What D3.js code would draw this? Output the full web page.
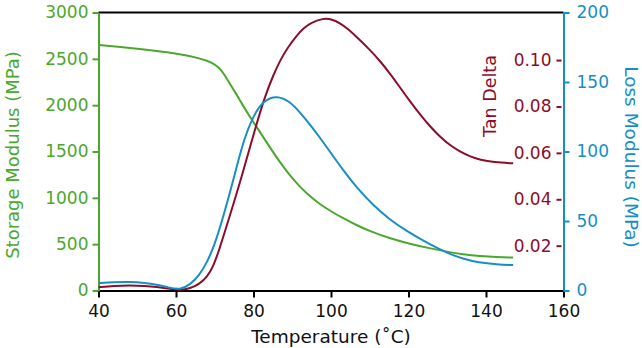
<!DOCTYPE html>
<html><head><meta charset="utf-8">
<script src="https://cdn.jsdelivr.net/npm/d3@7"></script>
<style>
html,body{margin:0;padding:0;background:#fff;}
text{font-family:"DejaVu Sans",sans-serif;}
</style></head>
<body><svg id="c" width="642" height="348"></svg>
<script>
// ---- data ----
const xTicks = [40, 60, 80, 100, 120, 140, 160];
const storageTicks = [0, 500, 1000, 1500, 2000, 2500, 3000];
const lossTicks = [0, 50, 100, 150, 200];
const tanTicks = [0.02, 0.04, 0.06, 0.08, 0.10];

const storageT = [40, 45, 50, 55, 60, 63.6, 66, 68, 69.6, 71, 72.2, 74, 76.5, 78.5, 80.8, 83, 85.1, 87, 89.4, 92, 94.6, 97, 99.7, 103, 106.6, 110, 115.2, 120, 125.5, 130, 134, 138.5, 142.8, 147];
const storageV = [2650, 2630, 2610, 2585, 2558, 2530, 2505, 2480, 2451, 2410, 2350, 2225, 2055, 1910, 1765, 1625, 1490, 1375, 1240, 1118, 1015, 935, 862, 782, 705, 640, 563, 507, 455, 418, 391, 371, 360, 355];

const lossT = [40, 44, 48, 52, 55, 58, 61, 63.6, 66, 67.9, 70, 72.2, 74.8, 77.4, 80, 82.5, 86, 89.4, 92, 94.6, 97, 99.7, 103.2, 106.6, 110.9, 115.2, 119.5, 125.5, 130, 134.1, 138, 142.8, 147];
const lossV = [5.2, 6, 6.3, 5.5, 4.2, 2.2, 0.4, 4, 11, 19.6, 33, 53, 79.5, 108, 126, 136.5, 140.5, 136, 128.2, 119.4, 110.5, 100, 86.3, 74.1, 61.2, 50.9, 42.7, 33.1, 27.0, 22.7, 20.2, 18.8, 18.3];

const tanT = [40, 44, 48, 52, 55, 58, 61, 63, 64.5, 66.2, 68, 69.6, 71, 72.2, 76.5, 80.8, 83, 85.1, 87, 89, 91, 93, 95, 98, 100, 102.3, 104.5, 106.6, 110, 112.6, 115.2, 117.8, 120.5, 123, 125.5, 128.1, 130.5, 133.3, 136, 138.5, 142, 147];
const tanV = [0.0021, 0.0027, 0.0029, 0.0027, 0.0023, 0.0015, 0.0008, 0.0014, 0.0022, 0.0038, 0.0065, 0.0110, 0.0175, 0.0239, 0.0469, 0.0727, 0.0845, 0.0935, 0.1003, 0.1058, 0.1103, 0.1139, 0.1162, 0.1180, 0.1177, 0.1160, 0.1132, 0.1100, 0.1045, 0.0997, 0.0943, 0.0882, 0.0820, 0.0765, 0.0715, 0.0670, 0.0635, 0.0605, 0.0584, 0.0570, 0.0560, 0.0555];

// ---- style ----
const GREEN = "#4aa82c", BLUE = "#168ec6", RED = "#8c0c2c";
const L = 98.5, R = 563.5, T = 12.5, B = 290.5;

const svg = d3.select("#c");
const x = d3.scaleLinear().domain([40, 160]).range([L, R]);
const yS = d3.scaleLinear().domain([0, 3000]).range([B, T]);
const yL = d3.scaleLinear().domain([0, 200]).range([B, T]);
const yT = d3.scaleLinear().domain([0, 0.1205]).range([292.1, T]);

// top frame
svg.append("line").attr("x1", L).attr("x2", R).attr("y1", T).attr("y2", T)
  .attr("stroke", "#000").attr("stroke-width", 2);

// x axis
const gx = svg.append("g").attr("transform", `translate(0,${B})`)
  .call(d3.axisBottom(x).tickValues(xTicks).tickSize(7).tickPadding(7).tickSizeOuter(0));
gx.select(".domain").attr("stroke", "#000").attr("stroke-width", 2);
gx.selectAll(".tick line").attr("stroke", "#000").attr("stroke-width", 2);
gx.selectAll(".tick text").attr("fill", "#111").attr("font-size", 17).attr("font-family", "DejaVu Sans");

// left axis
const gl = svg.append("g").attr("transform", `translate(${L},0)`)
  .call(d3.axisLeft(yS).tickValues(storageTicks).tickFormat(d3.format("d")).tickSize(6).tickPadding(4).tickSizeOuter(0));
gl.select(".domain").attr("stroke", GREEN).attr("stroke-width", 2);
gl.selectAll(".tick line").attr("stroke", GREEN).attr("stroke-width", 2);
gl.selectAll(".tick text").attr("fill", GREEN).attr("font-size", 17).attr("font-family", "DejaVu Sans");

// right axis (loss)
const gr = svg.append("g").attr("transform", `translate(${R},0)`)
  .call(d3.axisRight(yL).tickValues(lossTicks).tickFormat(d3.format("d")).tickSize(6).tickPadding(7).tickSizeOuter(0));
gr.select(".domain").attr("stroke", BLUE).attr("stroke-width", 2);
gr.selectAll(".tick line").attr("stroke", BLUE).attr("stroke-width", 2);
gr.selectAll(".tick text").attr("fill", BLUE).attr("font-size", 17).attr("font-family", "DejaVu Sans");

// tan delta axis (inside)
const gt = svg.append("g").attr("transform", `translate(${R - 2},0)`)
  .call(d3.axisLeft(yT).tickValues(tanTicks).tickFormat(d3.format(".2f")).tickSize(5).tickPadding(5));
gt.select(".domain").remove();
gt.selectAll(".tick line").attr("stroke", RED).attr("stroke-width", 2);
gt.selectAll(".tick text").attr("fill", RED).attr("font-size", 17).attr("font-family", "DejaVu Sans");

// lines
const mk = (ts, vs) => ts.map((t, i) => [t, vs[i]]);
const line = ys => d3.line().x(d => x(d[0])).y(d => ys(d[1])).curve(d3.curveBasis);
svg.append("path").datum(mk(storageT, storageV)).attr("d", line(yS))
  .attr("fill", "none").attr("stroke", GREEN).attr("stroke-width", 2);
svg.append("path").datum(mk(tanT, tanV)).attr("d", line(yT))
  .attr("fill", "none").attr("stroke", RED).attr("stroke-width", 2);
svg.append("path").datum(mk(lossT, lossV)).attr("d", line(yL))
  .attr("fill", "none").attr("stroke", BLUE).attr("stroke-width", 2);

// titles
svg.append("text").attr("x", (L + R) / 2).attr("y", 342.5).attr("text-anchor", "middle")
  .attr("font-size", 18.5).attr("fill", "#111").text("Temperature (˚C)");
svg.append("text").attr("transform", "translate(18.5,155) rotate(-90)").attr("text-anchor", "middle")
  .attr("font-size", 18).attr("fill", GREEN).text("Storage Modulus (MPa)");
svg.append("text").attr("transform", "translate(624.5,157) rotate(90)").attr("text-anchor", "middle")
  .attr("font-size", 18.5).attr("fill", BLUE).text("Loss Modulus (MPa)");
svg.append("text").attr("transform", "translate(496,96) rotate(-90)").attr("text-anchor", "middle")
  .attr("font-size", 17.5).attr("fill", RED).text("Tan Delta");
</script></body></html>
